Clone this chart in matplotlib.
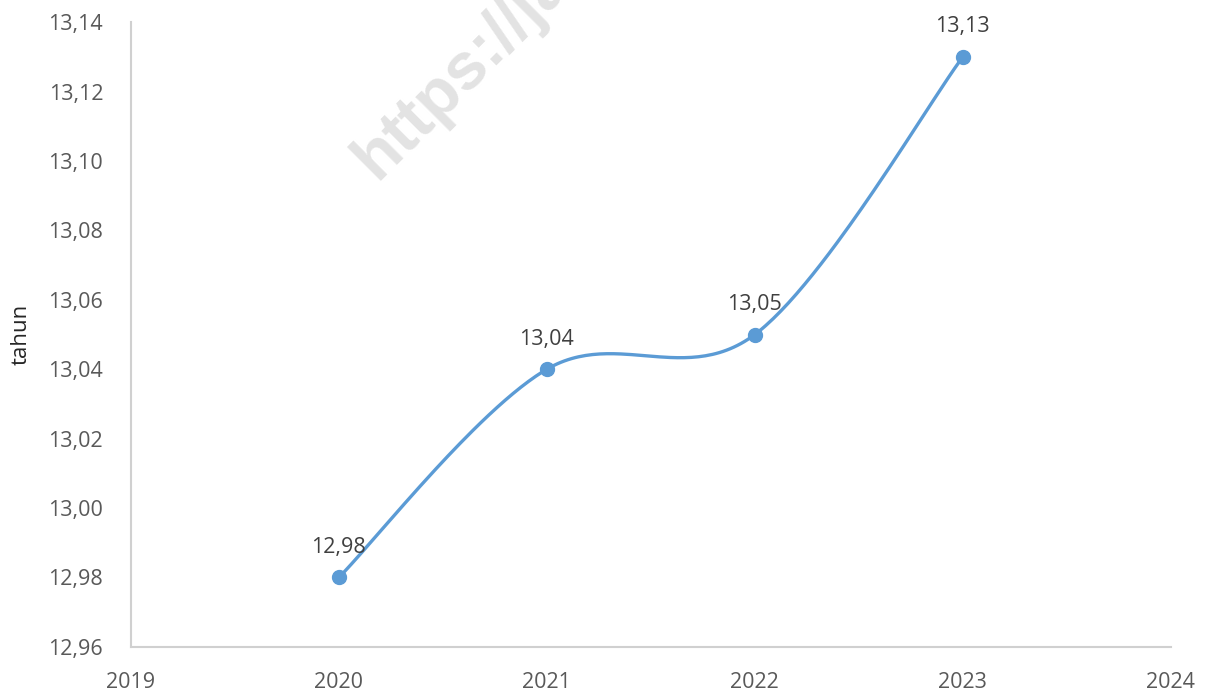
import numpy as np
import matplotlib.pyplot as plt

years = [2020, 2021, 2022, 2023]
values = [12.98, 13.04, 13.05, 13.13]
value_labels = ["12,98", "13,04", "13,05", "13,13"]
y_ticks = [12.96, 12.98, 13.00, 13.02, 13.04, 13.06, 13.08, 13.10, 13.12, 13.14]
x_ticks = [2019, 2020, 2021, 2022, 2023, 2024]

plt.rcParams['font.family'] = ['Open Sans', 'DejaVu Sans']

def smooth_curve(xs, ys, n=60):
    # excel style smoothed line: bezier segments with neighbour based control points
    xs = np.asarray(xs, float)
    ys = np.asarray(ys, float)
    px, py = [], []
    for i in range(len(xs) - 1):
        x0, y0 = xs[max(i - 1, 0)], ys[max(i - 1, 0)]
        x1, y1 = xs[i], ys[i]
        x2, y2 = xs[i + 1], ys[i + 1]
        x3, y3 = xs[min(i + 2, len(xs) - 1)], ys[min(i + 2, len(ys) - 1)]
        c1x, c1y = x1 + (x2 - x0) / 6, y1 + (y2 - y0) / 6
        c2x, c2y = x2 - (x3 - x1) / 6, y2 - (y3 - y1) / 6
        t = np.linspace(0, 1, n)
        a = (1 - t) ** 3
        b = 3 * (1 - t) ** 2 * t
        c = 3 * (1 - t) * t ** 2
        d = t ** 3
        px.extend(a * x1 + b * c1x + c * c2x + d * x2)
        py.extend(a * y1 + b * c1y + c * c2y + d * y2)
    return px, py

fig = plt.figure(figsize=(12.12, 6.94), dpi=100)
ax = fig.add_axes([0.108, 0.068, 0.858, 0.9])

line_color = '#5b9bd5'
sx, sy = smooth_curve(years, values)
ax.plot(sx, sy, color=line_color, linewidth=2.4, zorder=3, solid_capstyle='round')
ax.plot(years, values, 'o', color=line_color, markersize=10, zorder=4)

for x, y, lab in zip(years, values, value_labels):
    ax.annotate(lab, (x, y), xytext=(0, 14), textcoords='offset points',
                ha='center', va='bottom', fontsize=15.5, color='#404040')

ax.set_xlim(2019, 2024)
ax.set_ylim(12.96, 13.14)
ax.set_xticks(x_ticks)
ax.set_yticks(y_ticks)
ax.set_yticklabels([f"{v:.2f}".replace('.', ',') for v in y_ticks])
ax.tick_params(axis='both', length=0, labelsize=15.5, labelcolor='#595959')
ax.tick_params(axis='y', pad=20)
ax.tick_params(axis='x', pad=18)

for s in ['top', 'right']:
    ax.spines[s].set_visible(False)
for s in ['left', 'bottom']:
    ax.spines[s].set_color('#d0d0d0')
    ax.spines[s].set_linewidth(1.5)

ax.set_ylabel('tahun', fontsize=16, color='#262626', labelpad=8)
ax.yaxis.set_label_coords(-0.095, 0.5)

# watermark (cut off by the top edge, as in the source)
fig.text(0.283, 0.725, 'https://ja', rotation=45, fontsize=48, fontweight='bold',
         family='Liberation Sans', color='#e3e3e3', ha='left', va='bottom', zorder=0)

fig.savefig('out.png', dpi=100)
